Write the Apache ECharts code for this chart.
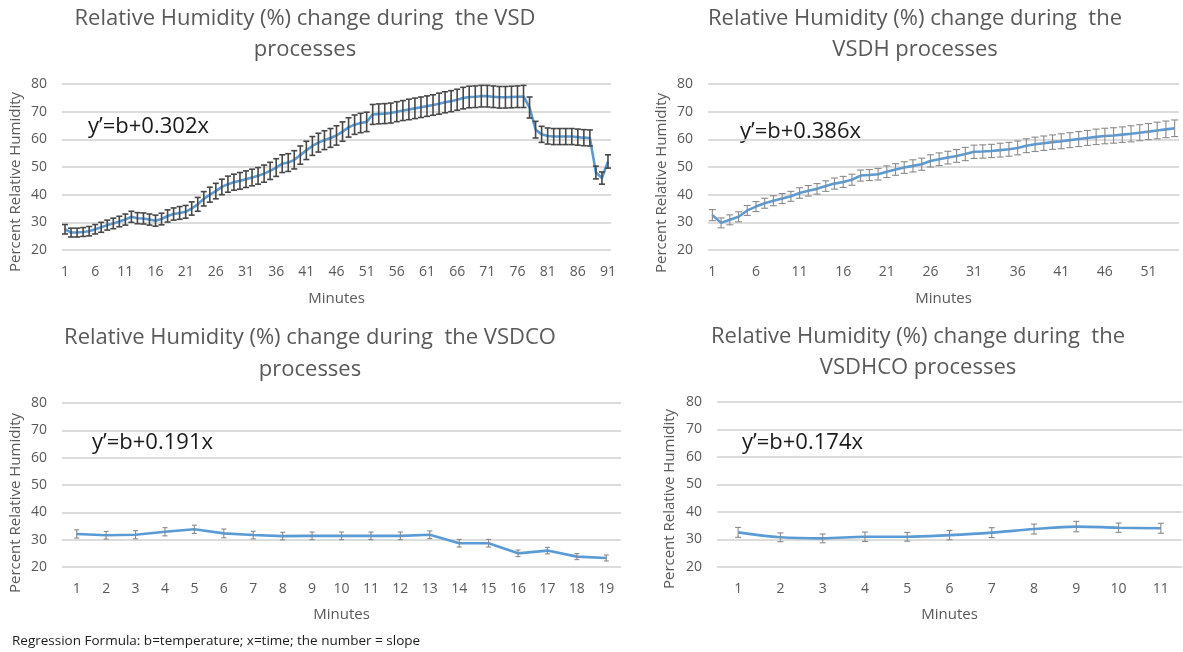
<!DOCTYPE html>
<html>
<head>
<meta charset="utf-8">
<script src="https://cdn.jsdelivr.net/npm/echarts@6/dist/echarts.min.js"></script>
<style>
  html, body { margin: 0; padding: 0; background: #ffffff; }
  #chart { width: 1183px; height: 652px; }
</style>
</head>
<body>
<div id="chart"></div>
<script>
// Relative humidity (%) per minute for the four drying processes, with ± error.
const yTicks = [20, 30, 40, 50, 60, 70, 80];

const rhVSD = [
  27.5, 26.3, 26.3, 26.5, 26.8, 27.5, 28.2, 29.0, 29.6, 30.3,
  31.0, 32.0, 31.5, 31.4, 31.0, 30.6, 31.2, 32.3, 33.0, 33.4,
  33.8, 35.0, 36.5, 38.5, 40.0, 41.3, 42.8, 43.8, 44.5, 45.0,
  45.6, 46.2, 46.8, 47.6, 48.6, 49.8, 51.2, 51.6, 52.6, 54.3,
  56.0, 57.6, 58.8, 59.7, 60.5, 61.4, 62.8, 64.3, 65.3, 65.9,
  66.3, 69.0, 69.2, 69.3, 69.5, 70.0, 70.4, 70.8, 71.2, 71.6,
  72.0, 72.4, 72.9, 73.4, 73.8, 74.3, 74.9, 75.3, 75.4, 75.6,
  75.6, 75.4, 75.2, 75.2, 75.3, 75.4, 75.5, 71.5, 63.5, 61.8,
  61.2, 61.0, 61.0, 61.0, 61.0, 60.8, 60.6, 60.5, 48.0, 46.0,
  52.0
];
const errVSD = [
  1.7, 1.6, 1.6, 1.6, 1.7, 1.7, 1.8, 1.8, 1.9, 1.9,
  2.0, 2.0, 2.0, 2.0, 2.0, 2.0, 2.1, 2.2, 2.2, 2.3,
  2.3, 2.4, 2.5, 2.6, 2.7, 2.8, 2.8, 2.9, 2.9, 3.0,
  3.0, 3.0, 3.0, 3.1, 3.1, 3.2, 3.2, 3.2, 3.3, 3.3,
  3.3, 3.4, 3.4, 3.4, 3.4, 3.5, 3.5, 3.5, 3.5, 3.5,
  3.5, 3.6, 3.6, 3.6, 3.6, 3.6, 3.6, 3.7, 3.7, 3.7,
  3.7, 3.7, 3.8, 3.8, 3.8, 3.8, 3.9, 3.9, 3.9, 3.9,
  3.9, 3.9, 3.9, 3.9, 3.9, 3.9, 4.0, 3.8, 3.0, 2.9,
  2.9, 2.9, 2.9, 2.9, 2.9, 2.9, 2.9, 2.9, 2.3, 2.2,
  2.4
];

const rhVSDH = [
  32.6, 29.8, 30.9, 32.0, 34.3, 35.7, 36.9, 37.8, 38.6, 39.4,
  40.6, 41.4, 42.1, 43.1, 44.0, 44.6, 45.4, 46.9, 47.1, 47.4,
  48.3, 49.1, 49.8, 50.4, 51.0, 52.2, 52.8, 53.4, 54.0, 54.7,
  55.5, 55.6, 55.8, 56.1, 56.4, 56.9, 57.7, 58.2, 58.6, 59.0,
  59.3, 59.7, 60.1, 60.5, 60.9, 61.2, 61.4, 61.7, 62.0, 62.4,
  62.8, 63.2, 63.6, 64.0
];
const errVSDH = [
  2.0, 1.8, 1.8, 1.8, 1.8, 1.8, 1.8, 1.8, 1.8, 1.8,
  1.9, 1.9, 1.9, 1.9, 2.0, 2.0, 2.0, 2.0, 2.0, 2.1,
  2.1, 2.1, 2.1, 2.2, 2.2, 2.2, 2.3, 2.3, 2.3, 2.4,
  2.4, 2.4, 2.4, 2.5, 2.5, 2.5, 2.5, 2.6, 2.6, 2.6,
  2.7, 2.7, 2.7, 2.7, 2.8, 2.8, 2.8, 2.8, 2.9, 2.9,
  2.9, 3.0, 3.0, 3.0
];

const rhVSDCO = [32.1, 31.6, 31.8, 32.9, 33.8, 32.3, 31.7, 31.3, 31.4, 31.4,
                 31.4, 31.4, 31.8, 28.7, 28.7, 25.0, 26.0, 23.8, 23.3];
const errVSDCO = [1.5, 1.4, 1.5, 1.5, 1.5, 1.6, 1.4, 1.4, 1.4, 1.4,
                  1.4, 1.4, 1.4, 1.4, 1.4, 1.2, 1.2, 1.1, 1.1];

const rhVSDHCO = [32.6, 30.8, 30.4, 31.0, 31.0, 31.6, 32.5, 33.8, 34.7, 34.3, 34.1];
const errVSDHCO = [1.8, 1.6, 1.6, 1.7, 1.6, 1.7, 1.8, 1.8, 1.9, 1.7, 1.8];

const titlesLine1 = [
  'Relative Humidity (%) change during  the VSD',
  'Relative Humidity (%) change during  the',
  'Relative Humidity (%) change during  the VSDCO',
  'Relative Humidity (%) change during  the'
];
const titlesLine2 = ['processes', 'VSDH processes', 'processes', 'VSDHCO processes'];
const equations = ['y\u2019=b+0.302x', 'y\u2019=b+0.386x', 'y\u2019=b+0.191x', 'y\u2019=b+0.174x'];
const footnote = 'Regression Formula: b=temperature; x=time; the number = slope';
const yAxisTitle = 'Percent Relative Humidity';
const xAxisTitle = 'Minutes';

const minuteLabels = n => Array.from({ length: n }, (_, i) => String(i + 1));

// Panel layout (pixels)
const panels = [
  { values: rhVSD,    errors: errVSD,    grid: { left: 62,  top: 84,  width: 549, height: 166 }, every: 4, cap: 3,   barColor: '#474747', barWidth: 1.6, smooth: false, nameGap: 41,
    title: { x: 305, y1: 19, y2: 50 }, eq: { x: 88, y: 127 }, yName: { x: 16, y: 182 } },
  { values: rhVSDH,   errors: errVSDH,   grid: { left: 708, top: 84,  width: 471, height: 166 }, every: 4, cap: 3.5, barColor: '#8a8a8a', barWidth: 1.1, smooth: false, nameGap: 41,
    title: { x: 915, y1: 19, y2: 50 }, eq: { x: 740, y: 132 }, yName: { x: 662, y: 183 } },
  { values: rhVSDCO,  errors: errVSDCO,  grid: { left: 62,  top: 403, width: 559, height: 164 }, every: 0, cap: 2.5, barColor: '#8a8a8a', barWidth: 1.1, smooth: false, nameGap: 40,
    title: { x: 310, y1: 338, y2: 370 }, eq: { x: 92, y: 443 }, yName: { x: 16, y: 503 } },
  { values: rhVSDHCO, errors: errVSDHCO, grid: { left: 717, top: 402, width: 465, height: 165 }, every: 0, cap: 3,   barColor: '#8a8a8a', barWidth: 1.1, smooth: true, nameGap: 40,
    title: { x: 918, y1: 337, y2: 368 }, eq: { x: 742, y: 443 }, yName: { x: 670, y: 499 } }
];

const textGray = '#595959';
const fontFamily = '"Open Sans", "Liberation Sans", sans-serif';

function errorBarRenderer(halfCap, color, width) {
  return function (params, api) {
    const idx = api.value(0);
    const lo = api.coord([idx, api.value(1)]);
    const hi = api.coord([idx, api.value(2)]);
    const style = { stroke: color, lineWidth: width };
    return {
      type: 'group',
      children: [
        { type: 'line', shape: { x1: lo[0], y1: lo[1], x2: hi[0], y2: hi[1] }, style },
        { type: 'line', shape: { x1: lo[0] - halfCap, y1: lo[1], x2: lo[0] + halfCap, y2: lo[1] }, style },
        { type: 'line', shape: { x1: hi[0] - halfCap, y1: hi[1], x2: hi[0] + halfCap, y2: hi[1] }, style }
      ]
    };
  };
}

const grids = [], xAxes = [], yAxes = [], series = [], graphics = [];

panels.forEach((p, i) => {
  grids.push(Object.assign({ containLabel: false }, p.grid));
  xAxes.push({
    type: 'category', gridIndex: i, data: minuteLabels(p.values.length), boundaryGap: true,
    axisLine: { show: false }, axisTick: { show: false },
    axisLabel: { interval: p.every, color: textGray, fontSize: 14, fontFamily, margin: 15 },
    name: xAxisTitle, nameLocation: 'middle', nameGap: p.nameGap,
    nameTextStyle: { color: textGray, fontSize: 15, fontFamily }
  });
  yAxes.push({
    type: 'value', gridIndex: i, min: yTicks[0], max: yTicks[yTicks.length - 1], interval: 10,
    axisLine: { show: false }, axisTick: { show: false },
    axisLabel: { color: textGray, fontSize: 14, fontFamily, margin: 15 },
    splitLine: { lineStyle: { color: '#d0d0d0', width: 1.6 } }
  });
  series.push({
    type: 'line', xAxisIndex: i, yAxisIndex: i, data: p.values, symbol: 'none',
    smooth: p.smooth ? 0.35 : false,
    lineStyle: { color: '#5b9bd5', width: 2.6 }, z: 2, silent: true
  });
  series.push({
    type: 'custom', xAxisIndex: i, yAxisIndex: i, z: 3, silent: true,
    renderItem: errorBarRenderer(p.cap, p.barColor, p.barWidth),
    encode: { x: 0, y: [1, 2] },
    data: p.values.map((v, k) => [k, +(v - p.errors[k]).toFixed(2), +(v + p.errors[k]).toFixed(2)])
  });
  // Titles
  graphics.push({ type: 'text', x: p.title.x, y: p.title.y1,
    style: { text: titlesLine1[i], fill: textGray, font: '22px ' + fontFamily, textAlign: 'center', textVerticalAlign: 'middle' } });
  graphics.push({ type: 'text', x: p.title.x, y: p.title.y2,
    style: { text: titlesLine2[i], fill: textGray, font: '22px ' + fontFamily, textAlign: 'center', textVerticalAlign: 'middle' } });
  // Regression equation
  graphics.push({ type: 'text', x: p.eq.x, y: p.eq.y,
    style: { text: equations[i], fill: '#1a1a1a', font: '22px ' + fontFamily, textAlign: 'left', textVerticalAlign: 'middle' } });
  // Vertical axis title
  graphics.push({ type: 'text', x: p.yName.x, y: p.yName.y, rotation: Math.PI / 2,
    style: { text: yAxisTitle, fill: textGray, font: '15px ' + fontFamily, textAlign: 'center', textVerticalAlign: 'middle' } });
});

graphics.push({ type: 'text', x: 12, y: 641,
  style: { text: footnote, fill: '#1a1a1a', font: '13.5px ' + fontFamily, textAlign: 'left', textVerticalAlign: 'middle' } });

const chart = echarts.init(document.getElementById('chart'), null, { renderer: 'canvas' });
chart.setOption({
  animation: false,
  backgroundColor: '#ffffff',
  grid: grids, xAxis: xAxes, yAxis: yAxes, series: series, graphic: graphics
});
</script>
</body>
</html>
